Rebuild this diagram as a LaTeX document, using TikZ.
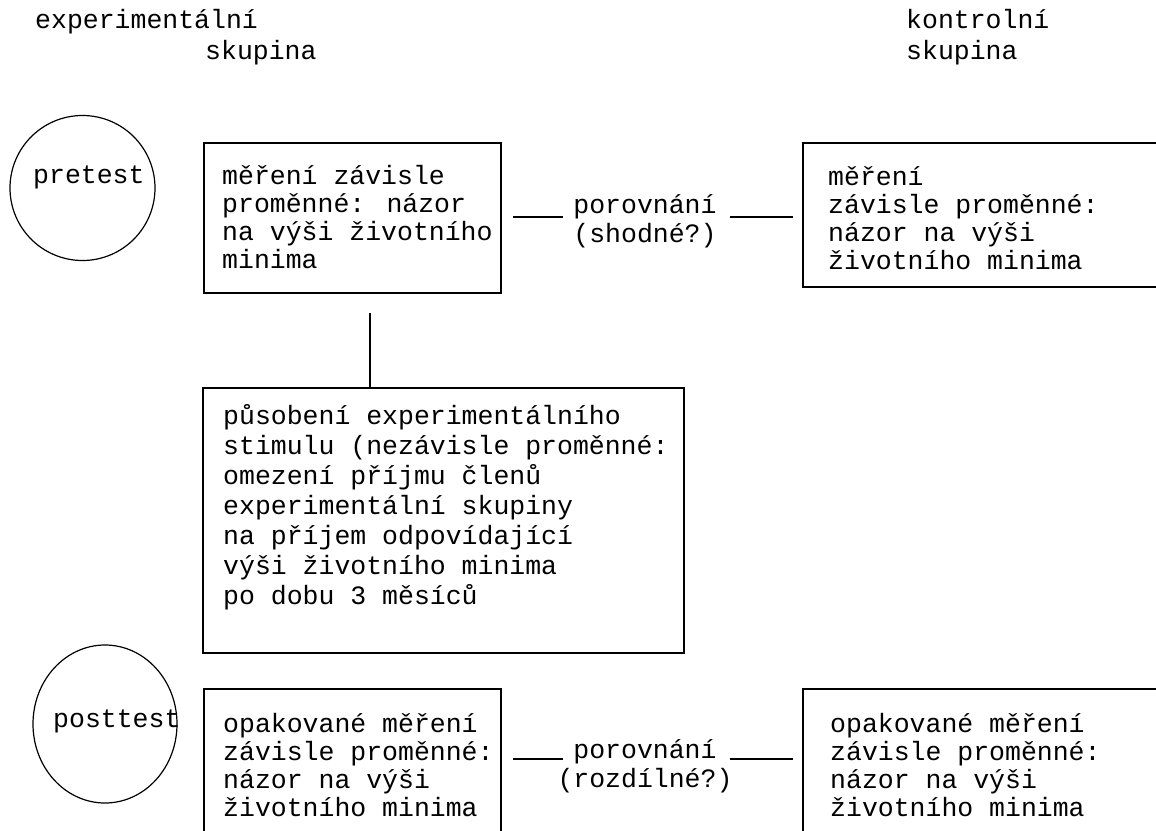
\documentclass[tikz,border=0pt]{standalone}
\usepackage{fontspec}
\setmainfont{Liberation Mono}
\usetikzlibrary{shapes.geometric}
\newcommand{\txtA}{\fontsize{26.5}{28.3}\selectfont}
\newcommand{\txtB}{\fontsize{26.5}{30}\selectfont}
\tikzset{
  boxst/.style={draw, line width=1.8pt, rectangle, inner sep=0pt, anchor=north west},
  circst/.style={draw, line width=1.2pt, inner sep=0pt},
  lbl/.style={anchor=base west, inner sep=0pt, font=\txtA},
  conn/.style={line width=1.3pt},
}
\begin{document}
\begin{tikzpicture}[x=1pt, y=-1pt]
\clip (0,0) rectangle (1156,830);
\fill[white] (0,0) rectangle (1156,830);

% headers
\node[lbl] (h1) at (35,28) {experimentální};
\node[lbl] (h2) at (205,59) {skupina};
\node[lbl] (h3) at (906,28) {kontrolní};
\node[lbl] (h4) at (906,59) {skupina};

% circles
\node[circst, circle, minimum size=145pt] (c1) at (82.5,188) {};
\node[lbl] (t1) at (33,183) {pretest};
\node[circst, ellipse, minimum width=144pt, minimum height=158pt] (c2) at (105,724) {};
\node[lbl] (t2) at (53,727) {posttest};

% boxes
\node[boxst, minimum width=297pt, minimum height=150pt] (b1) at (203,142) {};
\node[lbl] (b1t) at (222,184) {\parbox[t]{300pt}{\txtA měření závisle\\proměnné: názor\\na výši životního\\minima}};

\node[boxst, minimum width=400pt, minimum height=144pt] (b2) at (802,142) {};
\node[lbl] (b2t) at (828,185) {\parbox[t]{320pt}{\txtA měření\\závisle proměnné:\\názor na výši\\životního minima}};

\node[boxst, minimum width=481pt, minimum height=265pt] (b3) at (202,387) {};
\node[lbl] (b3t) at (223,424) {\parbox[t]{460pt}{\txtB působení experimentálního\\stimulu (nezávisle proměnné:\\omezení příjmu členů\\experimentální skupiny\\na příjem odpovídající\\výši životního minima\\po dobu 3 měsíců}};

\node[boxst, minimum width=297pt, minimum height=180pt] (b4) at (203,688) {};
\node[lbl] (b4t) at (223,732) {\parbox[t]{300pt}{\txtA opakované měření\\závisle proměnné:\\názor na výši\\životního minima}};

\node[boxst, minimum width=400pt, minimum height=180pt] (b5) at (802,688) {};
\node[lbl] (b5t) at (830,732) {\parbox[t]{320pt}{\txtA opakované měření\\závisle proměnné:\\názor na výši\\životního minima}};

% comparison labels
\node[anchor=base, inner sep=0pt] (p1) at (645,213) {\parbox[t]{220pt}{\centering\fontsize{26.5}{29}\selectfont porovnání\\(shodné?)}};
\node[anchor=base, inner sep=0pt] (p2) at (645,758) {\parbox[t]{220pt}{\centering\fontsize{26.5}{29}\selectfont porovnání\\(rozdílné?)}};

% connector end points
\coordinate (l1a) at (513,217);
\coordinate (l1b) at (563,217);
\coordinate (r1a) at (730,217);
\coordinate (r1b) at (793,217);
\coordinate (l2a) at (513,759);
\coordinate (l2b) at (563,759);
\coordinate (r2a) at (730,759);
\coordinate (r2b) at (793,759);
\coordinate (vt) at (370,313);

\draw[conn] (l1a) -- (l1b);
\draw[conn] (r1a) -- (r1b);
\draw[conn] (l2a) -- (l2b);
\draw[conn] (r2a) -- (r2b);
\draw[conn] (vt) -- (vt |- b3.north);
\end{tikzpicture}
\end{document}
